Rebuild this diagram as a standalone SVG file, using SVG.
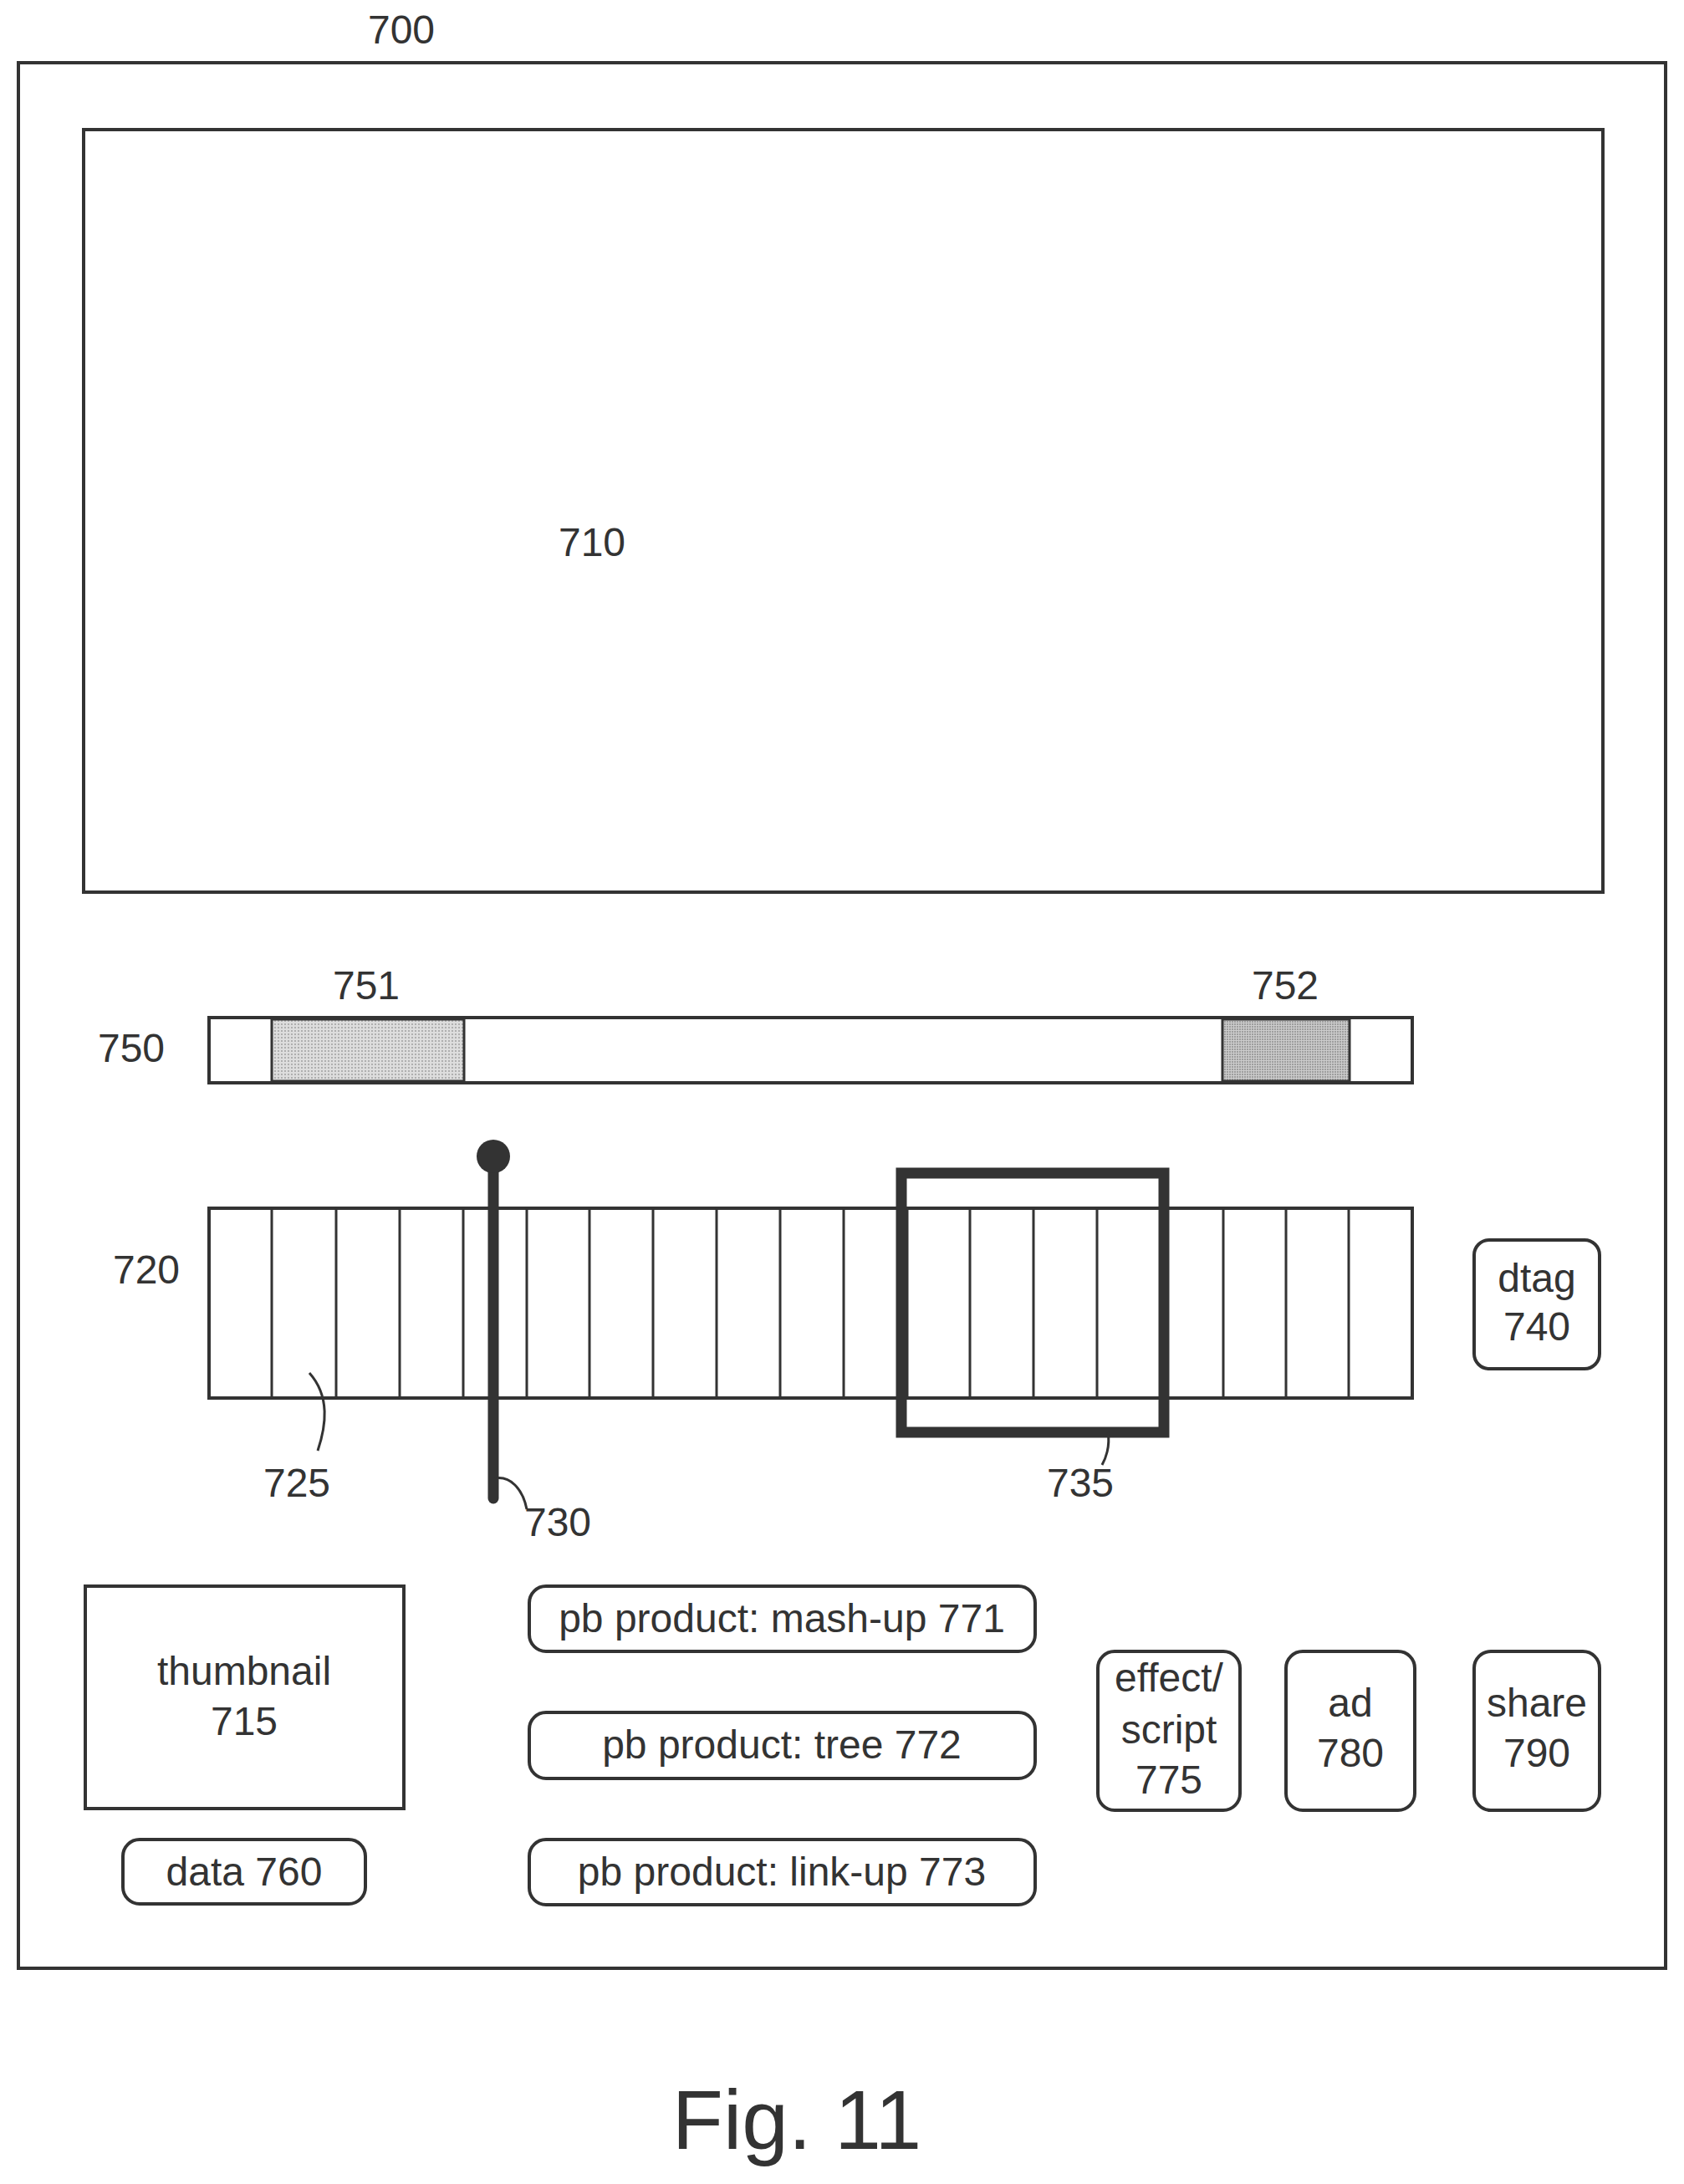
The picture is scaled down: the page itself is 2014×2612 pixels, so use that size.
<svg xmlns="http://www.w3.org/2000/svg" width="2014" height="2612" viewBox="0 0 2014 2612">
<style>
.b{fill:none;stroke:#333;stroke-width:4}
.r{fill:#fff;stroke:#333;stroke-width:4}
.t{font-family:"Liberation Sans",Arial,sans-serif;font-size:48px;fill:#333;text-anchor:middle}
.l{fill:none;stroke:#333;stroke-width:3}
</style>
<defs><pattern id="dots" width="4" height="4" patternUnits="userSpaceOnUse"><rect width="4" height="4" fill="#ddd"/><circle cx="1" cy="1" r="0.9" fill="#999"/></pattern>
<pattern id="dots2" width="3" height="3" patternUnits="userSpaceOnUse"><rect width="3" height="3" fill="#ccc"/><circle cx="1" cy="1" r="0.9" fill="#888"/></pattern></defs>
<g id="n700"><rect class="b" x="22" y="75" width="1970" height="2279"/><text class="t" x="480" y="52">700</text></g>
<g id="n710"><rect class="b" x="100" y="155" width="1817" height="912"/><text class="t" x="708" y="665">710</text></g>
<g id="n750"><rect class="r" x="250" y="1217" width="1439" height="78"/>
<rect x="325" y="1219" width="230" height="74" fill="url(#dots)" stroke="#333" stroke-width="3"/>
<rect x="1462" y="1219" width="152" height="74" fill="url(#dots2)" stroke="#333" stroke-width="3"/>
<text class="t" x="157" y="1270">750</text><text class="t" x="438" y="1195">751</text><text class="t" x="1537" y="1195">752</text></g>
<g id="n720"><rect class="r" x="250" y="1445" width="1439" height="227"/>
<path class="l" d="M325,1445V1672M402,1445V1672M478,1445V1672M554,1445V1672M630,1445V1672M705,1445V1672M781,1445V1672M857,1445V1672M933,1445V1672M1009,1445V1672M1085,1445V1672M1160,1445V1672M1236,1445V1672M1312,1445V1672M1388,1445V1672M1463,1445V1672M1538,1445V1672M1613,1445V1672"/>
<text class="t" x="175" y="1535">720</text><text class="t" x="355" y="1790">725</text></g>
<g id="n730"><line x1="590" y1="1383" x2="590" y2="1792" stroke="#333" stroke-width="13" stroke-linecap="round"/><circle cx="590" cy="1383" r="20" fill="#333"/><text class="t" x="667" y="1837">730</text></g>
<g id="n735"><rect x="1078" y="1403" width="314" height="310" fill="none" stroke="#333" stroke-width="13"/><text class="t" x="1292" y="1790">735</text></g>
<g id="n740"><rect class="r" x="1763" y="1483" width="150" height="154" rx="18"/><text class="t" x="1838" y="1545">dtag</text><text class="t" x="1838" y="1603">740</text></g>
<g id="n715"><rect class="r" x="102" y="1897" width="381" height="266"/><text class="t" x="292" y="2015">thumbnail</text><text class="t" x="292" y="2075">715</text></g>
<g id="n760"><rect class="r" x="147" y="2200" width="290" height="77" rx="20"/><text class="t" x="292" y="2255">data 760</text></g>
<g id="n771"><rect class="r" x="633" y="1897" width="605" height="78" rx="20"/><text class="t" x="935" y="1952">pb product: mash-up 771</text></g>
<g id="n772"><rect class="r" x="633" y="2048" width="605" height="79" rx="20"/><text class="t" x="935" y="2103">pb product: tree 772</text></g>
<g id="n773"><rect class="r" x="633" y="2200" width="605" height="78" rx="20"/><text class="t" x="935" y="2255">pb product: link-up 773</text></g>
<g id="n775"><rect class="r" x="1313" y="1975" width="170" height="190" rx="20"/><text class="t" x="1398" y="2023">effect/</text><text class="t" x="1398" y="2085">script</text><text class="t" x="1398" y="2145">775</text></g>
<g id="n780"><rect class="r" x="1538" y="1975" width="154" height="190" rx="20"/><text class="t" x="1615" y="2053">ad</text><text class="t" x="1615" y="2113">780</text></g>
<g id="n790"><rect class="r" x="1763" y="1975" width="150" height="190" rx="20"/><text class="t" x="1838" y="2053">share</text><text class="t" x="1838" y="2113">790</text></g>
<g id="connectors">
<path class="l" d="M370,1642C395,1670 390,1705 380,1735"/>
<path class="l" d="M592,1768C610,1765 625,1780 630,1805"/>
<path class="l" d="M1325,1713C1328,1730 1322,1745 1318,1752"/>
</g>
<text class="t" x="953" y="2570" style="font-size:100px">Fig. 11</text>
</svg>
